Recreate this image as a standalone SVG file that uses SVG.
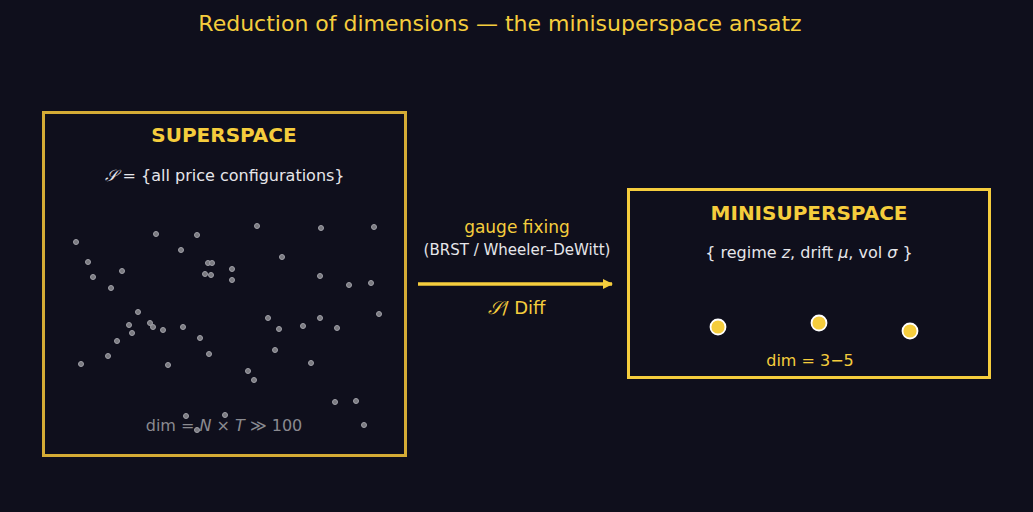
<svg xmlns="http://www.w3.org/2000/svg" width="1033" height="512" viewBox="0 0 1033 512">
<style>
text{font-family:"DejaVu Sans",sans-serif;text-anchor:middle}
.d{fill:#7a7a80;stroke:#a0a0a8;stroke-width:1}
.y{fill:#f5cd3d}
.w{fill:#e6e6ea}
</style>
<defs><marker id="ah" markerWidth="10" markerHeight="10" refX="9" refY="5" orient="auto" markerUnits="userSpaceOnUse" viewBox="0 0 10 10"><path d="M0,0 L10,5 L0,10 z" fill="#f5cd3d"/></marker></defs>
<rect width="1033" height="512" fill="#0f0f1c"/>
<text x="500" y="31" class="y" font-size="22">Reduction of dimensions — the minisuperspace ansatz</text>
<g id="superspace">
<rect x="43.5" y="112.5" width="362" height="343" fill="none" stroke="#d4ab35" stroke-width="3"/>
<text x="224" y="142" class="y" font-size="20" font-weight="bold">SUPERSPACE</text>
<text x="225" y="181" class="w" font-size="16"><tspan font-style="italic" font-family="DejaVu Serif">𝒮</tspan> = {all price configurations}</text>
<g>
<circle class="d" cx="76" cy="242" r="2.5"/><circle class="d" cx="88" cy="262" r="2.5"/><circle class="d" cx="93" cy="277" r="2.5"/><circle class="d" cx="111" cy="288" r="2.5"/><circle class="d" cx="122" cy="271" r="2.5"/><circle class="d" cx="156" cy="234" r="2.5"/><circle class="d" cx="181" cy="250" r="2.5"/><circle class="d" cx="197" cy="235" r="2.5"/><circle class="d" cx="208" cy="263" r="2.5"/><circle class="d" cx="212" cy="263" r="2.5"/><circle class="d" cx="205" cy="274" r="2.5"/><circle class="d" cx="211" cy="275" r="2.5"/><circle class="d" cx="232" cy="269" r="2.5"/><circle class="d" cx="232" cy="280" r="2.5"/><circle class="d" cx="257" cy="226" r="2.5"/><circle class="d" cx="282" cy="257" r="2.5"/><circle class="d" cx="321" cy="228" r="2.5"/><circle class="d" cx="374" cy="227" r="2.5"/><circle class="d" cx="320" cy="276" r="2.5"/><circle class="d" cx="349" cy="285" r="2.5"/><circle class="d" cx="371" cy="283" r="2.5"/><circle class="d" cx="379" cy="314" r="2.5"/><circle class="d" cx="138" cy="312" r="2.5"/><circle class="d" cx="129" cy="325" r="2.5"/><circle class="d" cx="132" cy="333" r="2.5"/><circle class="d" cx="117" cy="341" r="2.5"/><circle class="d" cx="150" cy="323" r="2.5"/><circle class="d" cx="153" cy="327" r="2.5"/><circle class="d" cx="163" cy="330" r="2.5"/><circle class="d" cx="183" cy="327" r="2.5"/><circle class="d" cx="200" cy="338" r="2.5"/><circle class="d" cx="209" cy="354" r="2.5"/><circle class="d" cx="168" cy="365" r="2.5"/><circle class="d" cx="81" cy="364" r="2.5"/><circle class="d" cx="108" cy="356" r="2.5"/><circle class="d" cx="268" cy="318" r="2.5"/><circle class="d" cx="279" cy="329" r="2.5"/><circle class="d" cx="303" cy="326" r="2.5"/><circle class="d" cx="320" cy="318" r="2.5"/><circle class="d" cx="337" cy="328" r="2.5"/><circle class="d" cx="275" cy="350" r="2.5"/><circle class="d" cx="311" cy="363" r="2.5"/><circle class="d" cx="248" cy="371" r="2.5"/><circle class="d" cx="254" cy="380" r="2.5"/><circle class="d" cx="335" cy="402" r="2.5"/><circle class="d" cx="356" cy="401" r="2.5"/><circle class="d" cx="364" cy="425" r="2.5"/>
</g>
<text x="224" y="431" font-size="16" fill="#8a8a90">dim = <tspan font-style="italic">N</tspan> × <tspan font-style="italic">T</tspan> ≫ 100</text>
<circle class="d" cx="186" cy="416" r="2.5"/><circle class="d" cx="225" cy="415" r="2.5"/><circle class="d" cx="197" cy="430" r="2.5"/>
</g>
<g id="connectors">
<line x1="418" y1="284" x2="612" y2="284" stroke="#f5cd3d" stroke-width="3.5" marker-end="url(#ah)"/>
<text x="517" y="233" class="y" font-size="17">gauge fixing</text>
<text x="517" y="255" class="w" font-size="15">(BRST / Wheeler–DeWitt)</text>
<text x="517" y="314" class="y" font-size="18" fill="#d4ab35"><tspan font-style="italic" font-family="DejaVu Serif">𝒮</tspan>/ Diff</text>
</g>
<g id="minisuperspace">
<rect x="628.5" y="189.5" width="361" height="188" fill="none" stroke="#f5cd3d" stroke-width="3"/>
<text x="809" y="220" class="y" font-size="20" font-weight="bold">MINISUPERSPACE</text>
<text x="809" y="258" class="w" font-size="16">{ regime <tspan font-style="italic">z</tspan>, drift <tspan font-style="italic">μ</tspan>, vol <tspan font-style="italic">σ</tspan> }</text>
<circle cx="718" cy="327" r="7.5" fill="#f5cd3d" stroke="#fff" stroke-width="1.8"/>
<circle cx="819" cy="323" r="7.5" fill="#f5cd3d" stroke="#fff" stroke-width="1.8"/>
<circle cx="910" cy="331" r="7.5" fill="#f5cd3d" stroke="#fff" stroke-width="1.8"/>
<text x="810" y="366" class="y" font-size="16">dim = 3−5</text>
</g>
</svg>
